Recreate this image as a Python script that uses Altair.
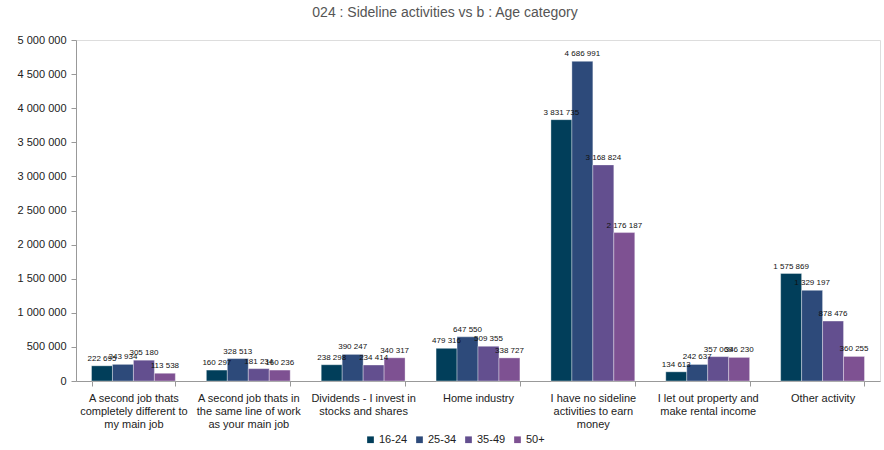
import altair as alt
import pandas as pd

categories = [
    "A second job thats|completely different to|my main job",
    "A second job thats in|the same line of work|as your main job",
    "Dividends - I invest in|stocks and shares",
    "Home industry",
    "I have no sideline|activities to earn|money",
    "I let out property and|make rental income",
    "Other activity",
]
groups = ["16-24", "25-34", "35-49", "50+"]
v_16_24 = [222695, 160297, 238298, 479316, 3831735, 134613, 1575869]
v_25_34 = [243934, 328513, 390247, 647550, 4686991, 242637, 1329197]
v_35_49 = [305180, 181234, 234414, 509355, 3168824, 357069, 878476]
v_50p = [113538, 160236, 340317, 338727, 2176187, 346230, 360255]
colors = ["#013e5a", "#2d4a7a", "#634f8f", "#7e5192"]

rows = []
for g, vals in zip(groups, [v_16_24, v_25_34, v_35_49, v_50p]):
    for c, v in zip(categories, vals):
        rows.append({"cat": c, "grp": g, "val": v,
                     "lbl": f"{v:,}".replace(",", " ")})
df = pd.DataFrame(rows)

FONT = "Liberation Sans"

x = alt.X("cat:N", sort=categories, title=None,
          scale=alt.Scale(paddingInner=0.27, paddingOuter=0.135),
          axis=alt.Axis(labelExpr="split(datum.label, '|')", labelAngle=0,
                        labelFontSize=11, labelColor="#222", labelFont=FONT,
                        labelLineHeight=13, labelPadding=6,
                        tickBand="extent", domainColor="#999", tickColor="#999",
                        tickSize=5, labelLimit=200))
xo = alt.XOffset("grp:N", sort=groups)
y = alt.Y("val:Q", title=None,
          scale=alt.Scale(domain=[0, 5000000]),
          axis=alt.Axis(values=list(range(0, 5000001, 500000)),
                        labelExpr="replace(format(datum.value, ','), /,/g, ' ')",
                        grid=False, labelFontSize=11, labelColor="#222",
                        labelFont=FONT, domainColor="#999", tickColor="#999",
                        tickSize=5, labelPadding=5))

color = alt.Color("grp:N", sort=groups,
                  scale=alt.Scale(domain=groups, range=colors),
                  legend=alt.Legend(title=None, orient="none", direction="horizontal",
                                    legendX=289, legendY=394, symbolType="square",
                                    symbolSize=45, labelFontSize=11, labelFont=FONT,
                                    labelColor="#222", columnPadding=6,
                                    labelOffset=3, symbolStrokeWidth=0))

bars = alt.Chart(df).mark_bar(stroke="white", strokeWidth=0.6, strokeOpacity=0.6).encode(
    x=x, xOffset=xo, y=y, color=color)
text = alt.Chart(df).mark_text(dy=-7, fontSize=8, font=FONT, color="#111").encode(
    x=x, xOffset=xo, y=y, text="lbl:N")

chart = (bars + text).properties(
    width=804, height=341,
    title=alt.TitleParams("024 : Sideline activities vs b : Age category",
                          fontSize=14, fontWeight="normal", color="#555",
                          font=FONT, anchor="middle", dx=-33, offset=14),
    autosize=alt.AutoSizeParams(type="none"),
    padding={"left": 76, "top": 40, "right": 4, "bottom": 69},
).configure_view(stroke=None).configure(background="white")

chart.save("out.html", embed_options={"renderer": "svg", "actions": False})
